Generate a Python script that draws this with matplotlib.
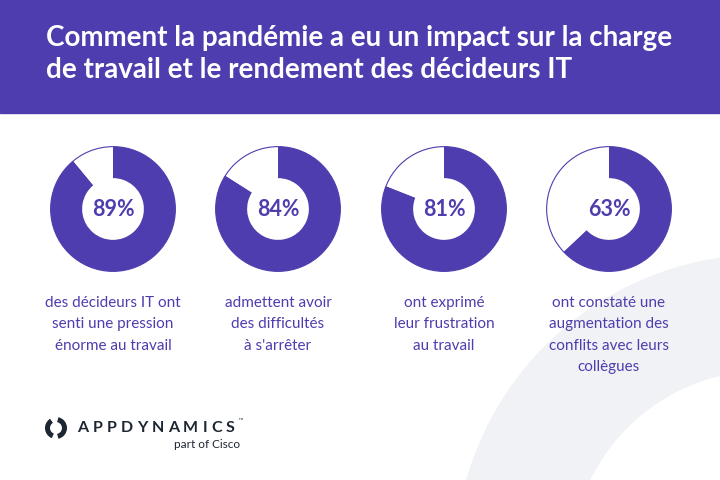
import numpy as np
import matplotlib.pyplot as plt
from matplotlib.patches import Rectangle, Wedge, Arc, Circle

purple = '#4D3DAE'
navy = '#1D2733'

title = "Comment la pandémie a eu un impact sur la charge\nde travail et le rendement des décideurs IT"
values = [89, 84, 81, 63]
labels = ["des décideurs IT ont\nsenti une pression\nénorme au travail",
          "admettent avoir\ndes difficultés\nà s'arrêter",
          "ont exprimé\nleur frustration\nau travail",
          "ont constaté une\naugmentation des\nconflits avec leurs\ncollègues"]
centers_x = [113, 278, 444, 609]

fig = plt.figure(figsize=(7.2, 4.8), dpi=100)
bg = fig.add_axes([0, 0, 1, 1])
bg.set_xlim(0, 720)
bg.set_ylim(480, 0)
bg.axis('off')

# grey background ring, bottom right
bg.add_patch(Wedge((765, 565), 310, 180, 270, width=115, color='#F1F2F5', zorder=0))
# header band
bg.add_patch(Rectangle((0, 0), 720, 113, color=purple, zorder=1))
bg.text(46, 54, title, color='white', fontsize=20, fontweight='bold',
        family='Lato', va='center', ha='left', linespacing=1.25, zorder=2)

cy = 209
r = 63
for x, v, lab in zip(centers_x, values, labels):
    ax = fig.add_axes([(x - r) / 720, 1 - (cy + r) / 480, 2 * r / 720, 2 * r / 480])
    ax.pie([v, 100 - v], colors=[purple, 'white'], startangle=90, counterclock=False,
           radius=0.99, wedgeprops=dict(width=0.5, linewidth=0))
    ax.add_patch(Circle((0, 0), 0.99, fill=False, ec=purple, lw=0.8))
    ax.set_xlim(-1, 1)
    ax.set_ylim(-1, 1)
    ax.set_aspect('equal')
    ax.axis('off')
    ax.text(0, 0, f"{v}%", ha='center', va='center', fontsize=15.5, color=purple,
            family='Lato', fontweight='bold')
    bg.text(x, 296, lab, ha='center', va='top', fontsize=11, color=purple,
            family='Lato', linespacing=1.68)

# logo
bg.add_patch(Arc((56, 428), 17, 17, theta1=112, theta2=238, lw=3.6, color=navy))
bg.add_patch(Arc((56, 428), 17, 17, theta1=-78, theta2=78, lw=3.6, color=navy))
renderer = fig.canvas.get_renderer()
xpos = 77
for ch in "APPDYNAMICS":
    t = bg.text(xpos, 428, ch, fontsize=11.5, color=navy, family='Lato',
                fontweight='bold', va='center', ha='left')
    w = t.get_window_extent(renderer).width
    xpos += w + 4.2
bg.text(xpos - 2, 421, "™", fontsize=4.5, color=navy, va='center', ha='left')
bg.text(240, 445, "part of Cisco", fontsize=8.5, color=navy, family='Lato',
        va='center', ha='right')

fig.savefig('out.png', dpi=100)
